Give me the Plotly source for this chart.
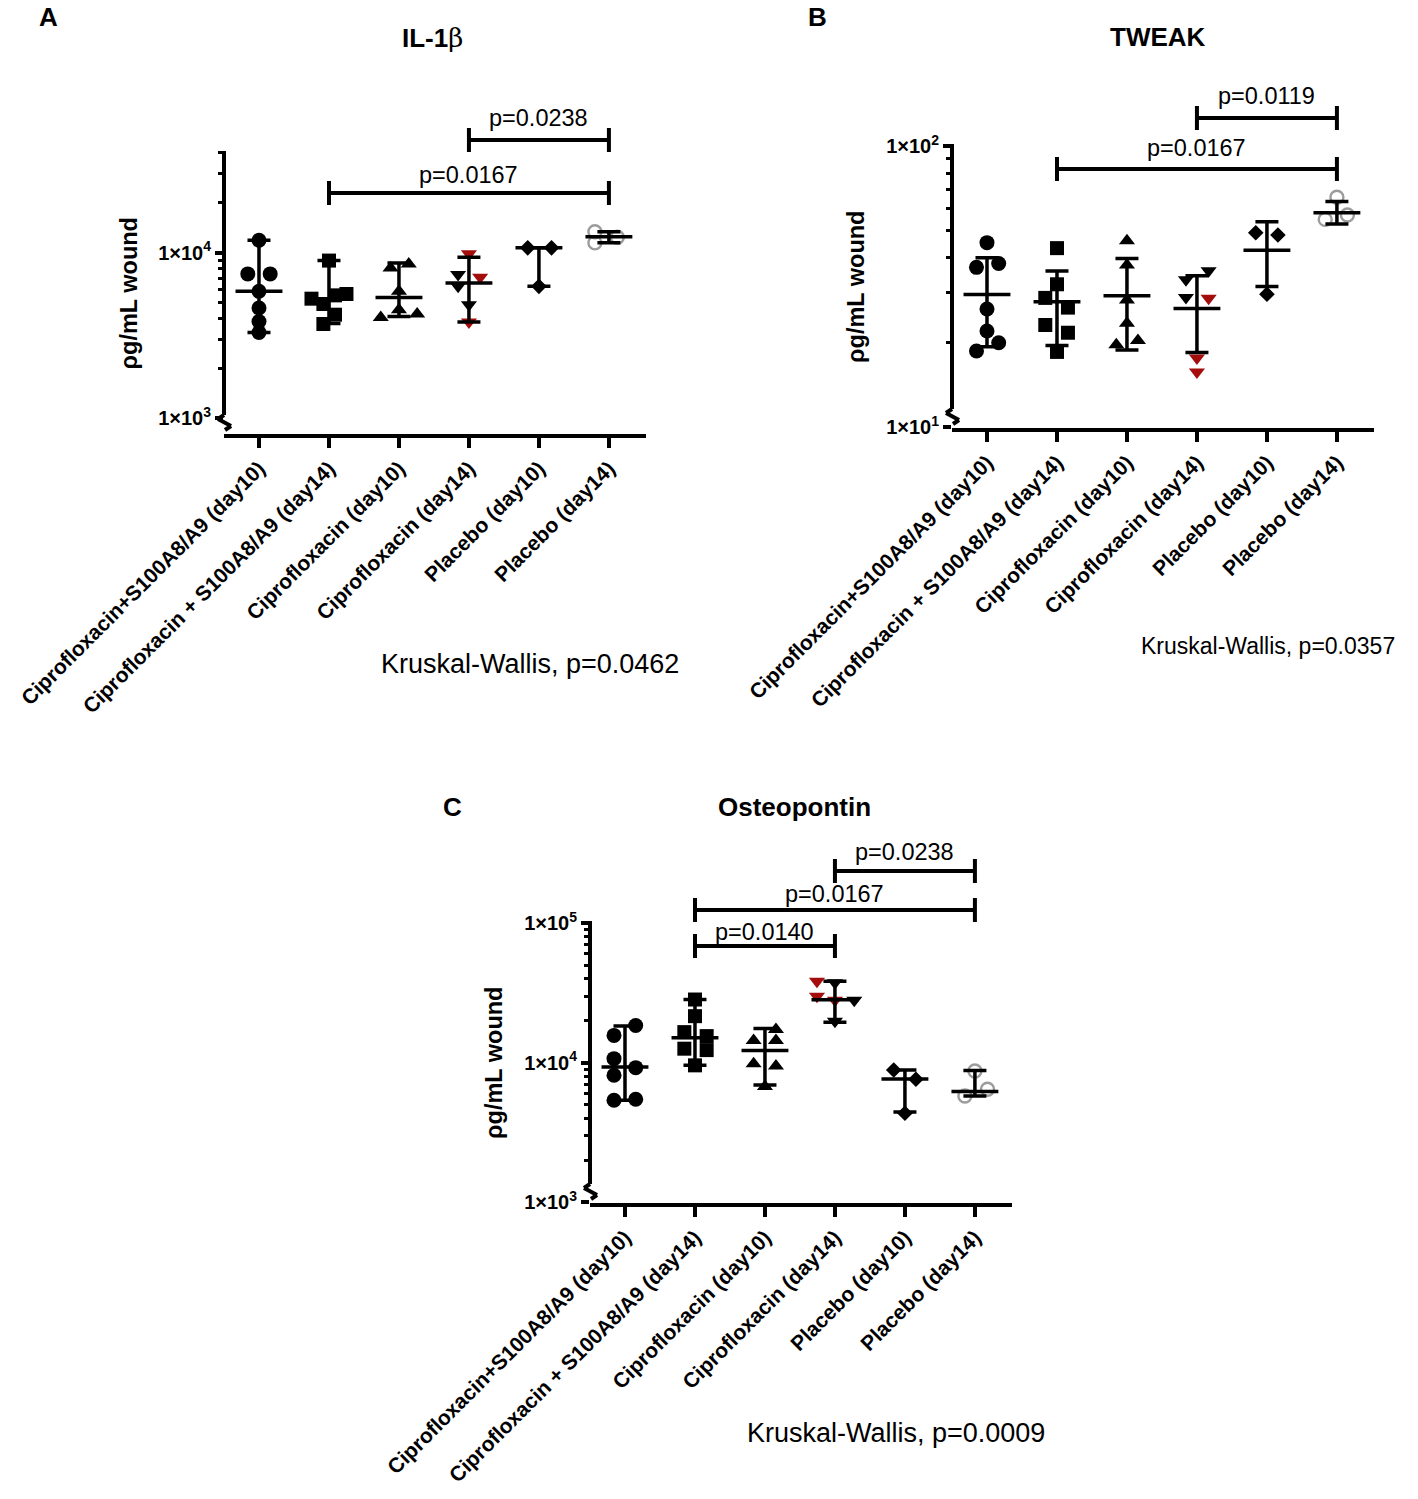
import plotly.graph_objects as go

W, H = 1418, 1499
FONT = "Liberation Sans, Arial, sans-serif"
RED = "#a50d0d"
GREY = "#9c9c9c"

groups = [
    "Ciprofloxacin+S100A8/A9 (day10)",
    "Ciprofloxacin + S100A8/A9 (day14)",
    "Ciprofloxacin (day10)",
    "Ciprofloxacin (day14)",
    "Placebo (day10)",
    "Placebo (day14)",
]
symbols = ["circle", "square", "triangle-up", "triangle-down", "diamond", "circle-open"]
sizes = [15, 14, 14, 14, 12, 13]

# ---- A: IL-1b (pg/mL wound) ----
il1b_values = [
    [11870, 7430, 7430, 5830, 4624, 3833, 3289],
    [8944, 5618, 5511, 5262, 4887, 4211, 3700],
    [8541, 8078, 5829, 4513, 4251, 4055],
    [9820, 7357, 7082, 6248, 4838, 3802],
    [10680, 10680, 6248],
    [13350, 11450, 12379],
]
il1b_jitter = [
    [0, -0.16, 0.16, 0, 0, 0, 0],
    [0, 0.25, 0.086, -0.25, -0.08, 0.086, -0.08],
    [0.14, -0.12, 0, 0, 0.26, -0.26],
    [0, -0.155, 0.16, -0.155, 0, 0],
    [-0.16, 0.18, 0],
    [-0.2, -0.2, 0.12],
]
il1b_red = [1, 0, 1, 0, 0, 1]  # Ciprofloxacin (day14) points drawn in red
il1b_center = [5830, 5262, 5358, 6552, 10680, 12450]
il1b_low = [3289, 3729, 4112, 3802, 6248, 11450]
il1b_high = [11870, 8944, 8650, 9365, 10680, 13350]
il1b_pairs = [(3, 5), (1, 5)]
il1b_pvals = ["p=0.0238", "p=0.0167"]

# ---- B: TWEAK ----
tweak_values = [
    [45.3, 38.2, 37.0, 26.3, 21.96, 19.95, 18.64],
    [43.3, 32.2, 28.8, 26.6, 23.07, 21.65, 18.5],
    [46.0, 37.7, 28.3, 23.4, 20.3, 19.6],
    [36.0, 33.4, 28.9, 28.7, 17.6, 15.7],
    [49.1, 48.2, 29.7],
    [65.7, 56.8, 54.8],
]
tweak_jitter = [
    [0, 0.167, -0.15, 0, 0, 0.167, -0.15],
    [0, 0, -0.167, 0.157, -0.167, 0.157, 0],
    [0, 0, 0, 0, 0.157, -0.152],
    [0.167, -0.157, -0.157, 0.167, 0, 0],
    [-0.16, 0.157, 0],
    [0, 0.15, -0.167],
]
tweak_red = [0, 0, 0, 1, 1, 1]
tweak_center = [29.6, 27.9, 29.3, 26.4, 42.6, 57.9]
tweak_low = [19.3, 19.5, 18.8, 18.4, 31.6, 52.8]
tweak_high = [40.0, 35.9, 39.8, 34.5, 53.8, 63.4]
tweak_pairs = [(3, 5), (1, 5)]
tweak_pvals = ["p=0.0119", "p=0.0167"]

# ---- C: Osteopontin ----
opn_values = [
    [18470, 15670, 10680, 9210, 8118, 5470, 5380],
    [28320, 21520, 16540, 15490, 12590, 12300, 9565],
    [17290, 14430, 14430, 9838, 9456, 6740],
    [38270, 37270, 29910, 28000, 28000, 19830],
    [8855, 7597, 4344],
    [8710, 6447, 5773],
]
opn_jitter = [
    [0.153, -0.157, -0.157, 0.153, -0.157, 0.153, -0.157],
    [0, 0, -0.152, 0.167, -0.152, 0.167, 0],
    [0.157, -0.162, 0.157, -0.162, 0.157, 0],
    [-0.257, 0, -0.257, 0, 0.276, 0],
    [-0.16, 0.157, 0],
    [0, 0.18, -0.143],
]
opn_red = [1, 0, 1, 1, 0, 0]
opn_center = [9300, 15090, 12240, 28180, 7650, 6206]
opn_low = [5380, 9565, 6918, 19500, 4436, 5773]
opn_high = [18330, 28320, 17580, 38270, 8855, 8778]
opn_pairs = [(3, 5), (1, 5), (1, 3)]
opn_pvals = ["p=0.0238", "p=0.0167", "p=0.0140"]

# layout of the three panels (pixel boxes: left, right, top, bottom)
panels = [
    dict(box=(224, 646, 153, 434), yrange=(2.903, 4.602), decades=[1e3, 1e4],
         top=4e4, letter="A", title="IL-1<span style='font-family:DejaVu Serif;font-weight:normal'>β</span>",
         kw="Kruskal-Wallis, p=0.0462", kw_size=27,
         values=il1b_values, jitter=il1b_jitter, red=il1b_red,
         center=il1b_center, low=il1b_low, high=il1b_high,
         pairs=il1b_pairs, pvals=il1b_pvals,
         bracket_px=[140, 193], ptext_px=[118, 175]),
    dict(box=(952, 1374, 146, 428), yrange=(0.9964, 2.0), decades=[1e1, 1e2],
         top=1e2, letter="B", title="TWEAK",
         kw="Kruskal-Wallis, p=0.0357", kw_size=23,
         values=tweak_values, jitter=tweak_jitter, red=tweak_red,
         center=tweak_center, low=tweak_low, high=tweak_high,
         pairs=tweak_pairs, pvals=tweak_pvals,
         bracket_px=[118, 169], ptext_px=[96, 148]),
    dict(box=(590, 1012, 923, 1203), yrange=(2.995, 5.0), decades=[1e3, 1e4, 1e5],
         top=1e5, letter="C", title="Osteopontin",
         kw="Kruskal-Wallis, p=0.0009", kw_size=27,
         values=opn_values, jitter=opn_jitter, red=opn_red,
         center=opn_center, low=opn_low, high=opn_high,
         pairs=opn_pairs, pvals=opn_pvals,
         bracket_px=[871, 910, 946], ptext_px=[852, 894, 932]),
]
# text anchors (pixels): panel letter, title, Kruskal-Wallis note
letter_px = [(48, 17), (817, 17), (452, 807)]
title_px = [(432, 38), (1158, 37), (794, 807)]
kw_px = [(530, 664), (1268, 646), (896, 1433)]

LW = 4
fig = go.Figure()
shapes = []
annotations = []

for n, p in enumerate(panels, start=1):
    xa = "x" if n == 1 else f"x{n}"
    ya = "y" if n == 1 else f"y{n}"
    l, r, t, b = p["box"]
    pw, ph = r - l, b - t

    for g in range(6):
        vals = p["values"][g]
        xs = [g + d for d in p["jitter"][g]]
        if symbols[g] == "circle-open":
            marker = dict(symbol="circle-open", size=sizes[g], color=GREY,
                          line=dict(color=GREY, width=2.4))
        else:
            if g == 3:
                cols = [RED if k else "black" for k in p["red"]]
            else:
                cols = "black"
            marker = dict(symbol=symbols[g], size=sizes[g], color=cols, line=dict(width=0))
        fig.add_trace(go.Scatter(x=xs, y=vals, mode="markers", marker=marker,
                                 xaxis=xa, yaxis=ya, showlegend=False, name=groups[g]))

    # centre line with error bars
    fig.add_trace(go.Scatter(
        x=list(range(6)), y=p["center"], mode="markers",
        marker=dict(symbol="line-ew", size=33.5, color="black",
                    line=dict(color="black", width=3.5)),
        error_y=dict(type="data", symmetric=False,
                     array=[h - c for h, c in zip(p["high"], p["center"])],
                     arrayminus=[c - lo for c, lo in zip(p["center"], p["low"])],
                     color="black", thickness=3.5, width=11.5),
        xaxis=xa, yaxis=ya, showlegend=False))

    # axes
    minor_vals = []
    for d in p["decades"]:
        for k in range(2, 10):
            if d * k <= p["top"] * 1.0001 and d * k < p["decades"][-1] * 10:
                minor_vals.append(d * k)
    exps = [len(str(int(d))) - 1 for d in p["decades"]]
    fig.layout[("xaxis" if n == 1 else f"xaxis{n}")] = dict(
        domain=[l / W, r / W], anchor=ya, range=[-0.5, 5.53],
        tickvals=list(range(6)), ticktext=groups, tickangle=-45,
        tickfont=dict(family=FONT, size=21, color="black", weight="bold"),
        ticks="outside", ticklen=10, tickwidth=LW, tickcolor="black",
        showline=True, linewidth=LW, linecolor="black",
        showgrid=False, zeroline=False, automargin=False, fixedrange=True)
    fig.layout[("yaxis" if n == 1 else f"yaxis{n}")] = dict(
        domain=[1 - b / H, 1 - t / H], anchor=xa, type="log", range=list(p["yrange"]),
        tickvals=p["decades"], ticktext=[f"1×10<sup>{e}</sup>" for e in exps],
        tickfont=dict(family=FONT, size=20, color="black", weight="bold"),
        ticks="outside", ticklen=8, tickwidth=LW, tickcolor="black",
        minor=dict(tickvals=minor_vals, ticks="outside", ticklen=5, tickwidth=3,
                   tickcolor="black", showgrid=False),
        showline=False, showgrid=False, zeroline=False, automargin=False, fixedrange=True)

    # y axis line drawn by hand with the Prism-style break near the bottom
    xd, yd = f"{xa} domain", f"{ya} domain"
    brk = [(0, 19), (-6, 15), (7, 8), (1, 4)]
    line = dict(color="black", width=LW)
    shapes.append(dict(type="line", xref=xd, yref=yd, x0=0, x1=0,
                       y0=brk[0][1] / ph, y1=1.0 + 2 / ph, line=line))
    for (ax0, ay0), (ax1, ay1) in zip(brk[:-1], brk[1:]):
        shapes.append(dict(type="line", xref=xd, yref=yd, x0=ax0 / pw, x1=ax1 / pw,
                           y0=ay0 / ph, y1=ay1 / ph, line=line))

    # significance brackets
    for (g0, g1), txt, by, ty in zip(p["pairs"], p["pvals"], p["bracket_px"], p["ptext_px"]):
        yb = (b - by) / ph
        shapes.append(dict(type="line", xref=xa, yref=yd, x0=g0, x1=g1, y0=yb, y1=yb, line=line))
        for g in (g0, g1):
            shapes.append(dict(type="line", xref=xa, yref=yd, x0=g, x1=g,
                               y0=yb - 12 / ph, y1=yb + 12 / ph, line=line))
        annotations.append(dict(text=txt, xref=xa, yref=yd, x=(g0 + g1) / 2, y=(b - ty) / ph,
                                showarrow=False, xanchor="center", yanchor="middle",
                                font=dict(family=FONT, size=23.5, color="black")))

    # y axis title
    annotations.append(dict(text="ρg/mL wound", xref=xd, yref=yd, x=-96 / pw, y=0.5,
                            textangle=-90, showarrow=False, xanchor="center", yanchor="middle",
                            font=dict(family=FONT, size=23.5, color="black", weight="bold")))

    lx, ly = letter_px[n - 1]
    annotations.append(dict(text=p["letter"], xref="paper", yref="paper", x=lx / W, y=1 - ly / H,
                            showarrow=False, xanchor="center", yanchor="middle",
                            font=dict(family=FONT, size=26, color="black", weight="bold")))
    tx, ty = title_px[n - 1]
    annotations.append(dict(text=p["title"], xref="paper", yref="paper", x=tx / W, y=1 - ty / H,
                            showarrow=False, xanchor="center", yanchor="middle",
                            font=dict(family=FONT, size=26, color="black", weight="bold")))
    kx, ky = kw_px[n - 1]
    annotations.append(dict(text=p["kw"], xref="paper", yref="paper", x=kx / W, y=1 - ky / H,
                            showarrow=False, xanchor="center", yanchor="middle",
                            font=dict(family=FONT, size=p["kw_size"], color="black")))

fig.update_layout(
    width=W, height=H,
    margin=dict(l=0, r=0, t=0, b=0),
    paper_bgcolor="white", plot_bgcolor="white",
    font=dict(family=FONT, color="black"),
    shapes=shapes, annotations=annotations,
    hovermode=False, showlegend=False,
)

# drop the browser's default 8px body margin so the figure sits at the page origin
fig.write_html("out.html", config={"displayModeBar": False},
               post_script="document.body.style.margin='0';")
